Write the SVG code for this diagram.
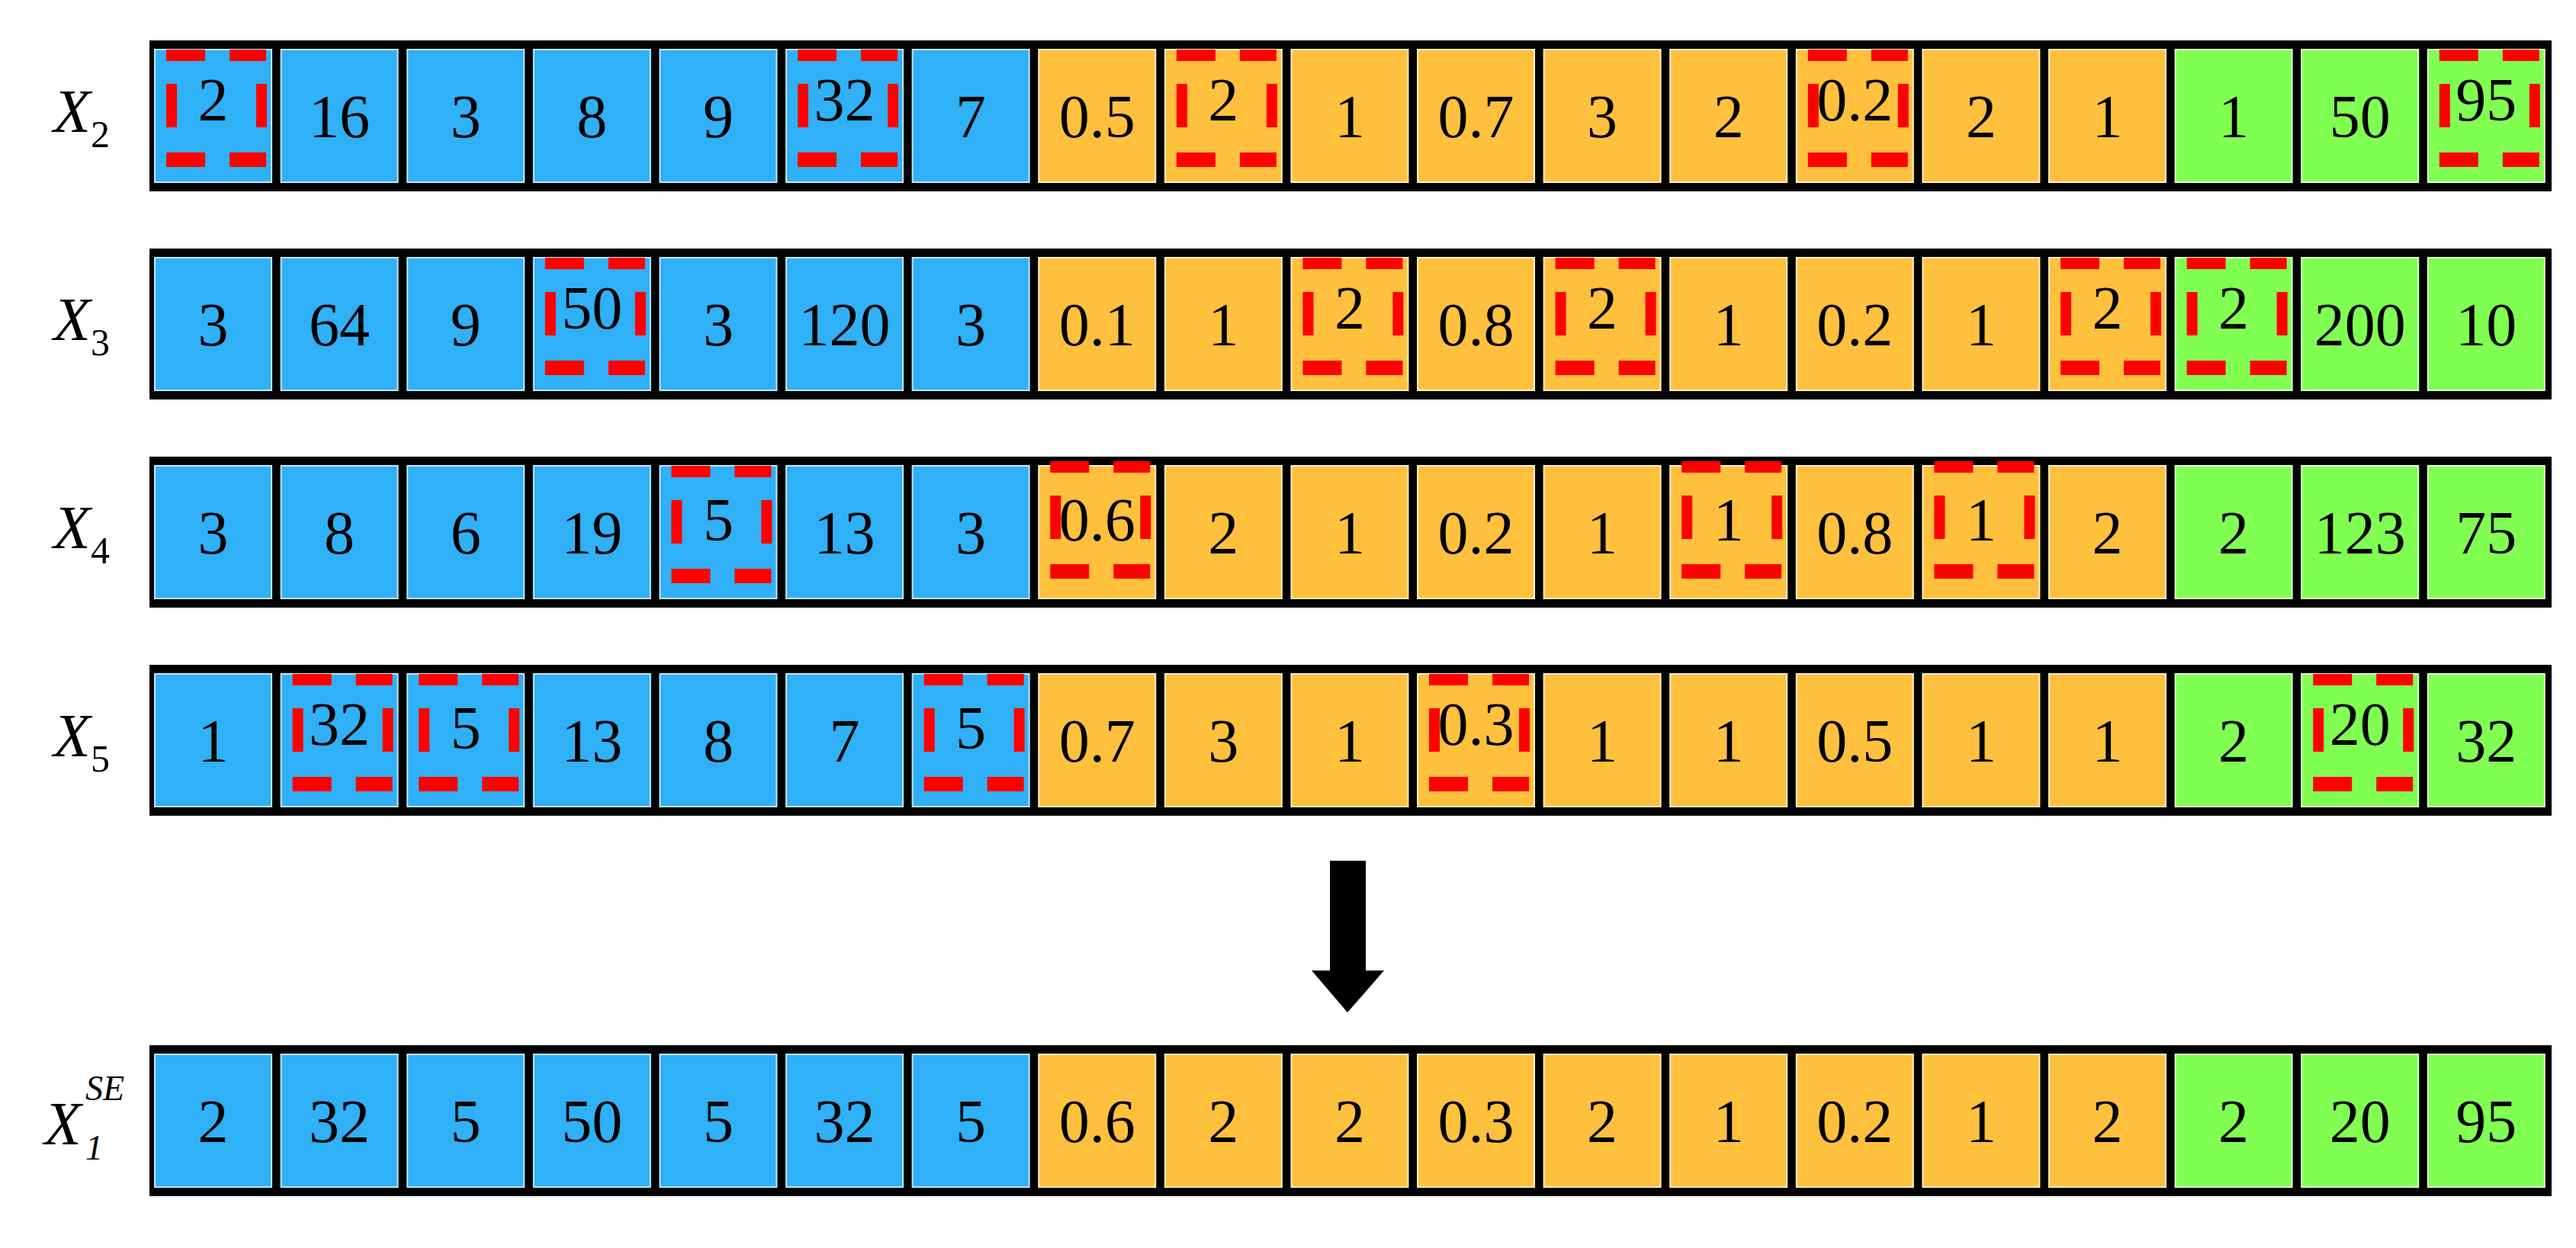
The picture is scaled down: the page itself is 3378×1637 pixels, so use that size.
<svg xmlns="http://www.w3.org/2000/svg" width="3378" height="1637" viewBox="0 0 3378 1637">
<style>
.frame{fill:#000}
.b{fill:#30b0f6;stroke:#bfe6ff;stroke-width:2}
.o{fill:#ffc03e;stroke:#fff0c0;stroke-width:2}
.g{fill:#80ff52;stroke:#e0ffd0;stroke-width:2}
.t{font-family:"Liberation Serif",serif;font-size:80px;text-anchor:middle;fill:#000}
.lab{font-family:"Liberation Serif",serif;font-style:italic;fill:#000}
.d{fill:#ff0000}
</style>
<defs>
<g id="hl">
<rect class="d" x="15" y="0" width="51" height="15"/><rect class="d" x="98" y="0" width="48" height="15"/>
<rect class="d" x="15" y="45" width="14" height="57"/><rect class="d" x="133" y="45" width="14" height="57"/>
<rect class="d" x="15" y="135" width="51" height="19"/><rect class="d" x="98" y="135" width="48" height="19"/>
</g>
</defs>
<g id="row-x2" transform="translate(0,53)">
<rect class="frame" x="196" y="0" width="3150" height="198"/>
<rect class="b" x="203" y="12" width="153" height="174"/><rect class="b" x="368.6" y="12" width="153" height="174"/><rect class="b" x="534.2" y="12" width="153" height="174"/><rect class="b" x="699.8" y="12" width="153" height="174"/><rect class="b" x="865.4" y="12" width="153" height="174"/><rect class="b" x="1031" y="12" width="153" height="174"/><rect class="b" x="1196.6" y="12" width="153" height="174"/>
<rect class="o" x="1362.2" y="12" width="153" height="174"/><rect class="o" x="1527.8" y="12" width="153" height="174"/><rect class="o" x="1693.4" y="12" width="153" height="174"/><rect class="o" x="1859" y="12" width="153" height="174"/><rect class="o" x="2024.6" y="12" width="153" height="174"/><rect class="o" x="2190.2" y="12" width="153" height="174"/><rect class="o" x="2355.8" y="12" width="153" height="174"/><rect class="o" x="2521.4" y="12" width="153" height="174"/><rect class="o" x="2687" y="12" width="153" height="174"/>
<rect class="g" x="2852.6" y="12" width="153" height="174"/><rect class="g" x="3018.2" y="12" width="153" height="174"/><rect class="g" x="3183.8" y="12" width="153" height="174"/>
<use href="#hl" x="203" y="12"/><use href="#hl" x="1031" y="12"/><use href="#hl" x="1527.8" y="12"/><use href="#hl" x="2355.8" y="12"/><use href="#hl" x="3183.8" y="12"/>
<text class="t" x="279.5" y="105">2</text><text class="t" x="445.1" y="127">16</text><text class="t" x="610.7" y="127">3</text><text class="t" x="776.3" y="127">8</text><text class="t" x="941.9" y="127">9</text><text class="t" x="1107.5" y="105">32</text><text class="t" x="1273.1" y="127">7</text>
<text class="t" x="1438.7" y="127">0.5</text><text class="t" x="1604.3" y="105">2</text><text class="t" x="1769.9" y="127">1</text><text class="t" x="1935.5" y="127">0.7</text><text class="t" x="2101.1" y="127">3</text><text class="t" x="2266.7" y="127">2</text><text class="t" x="2432.3" y="105">0.2</text><text class="t" x="2597.9" y="127">2</text><text class="t" x="2763.5" y="127">1</text>
<text class="t" x="2929.1" y="127">1</text><text class="t" x="3094.7" y="127">50</text><text class="t" x="3260.3" y="105">95</text>
<text class="lab" x="70" y="120" font-size="80">X<tspan font-size="50" font-style="normal" dy="20">2</tspan></text>
</g>
<g id="row-x3" transform="translate(0,326)">
<rect class="frame" x="196" y="0" width="3150" height="198"/>
<rect class="b" x="203" y="12" width="153" height="174"/><rect class="b" x="368.6" y="12" width="153" height="174"/><rect class="b" x="534.2" y="12" width="153" height="174"/><rect class="b" x="699.8" y="12" width="153" height="174"/><rect class="b" x="865.4" y="12" width="153" height="174"/><rect class="b" x="1031" y="12" width="153" height="174"/><rect class="b" x="1196.6" y="12" width="153" height="174"/>
<rect class="o" x="1362.2" y="12" width="153" height="174"/><rect class="o" x="1527.8" y="12" width="153" height="174"/><rect class="o" x="1693.4" y="12" width="153" height="174"/><rect class="o" x="1859" y="12" width="153" height="174"/><rect class="o" x="2024.6" y="12" width="153" height="174"/><rect class="o" x="2190.2" y="12" width="153" height="174"/><rect class="o" x="2355.8" y="12" width="153" height="174"/><rect class="o" x="2521.4" y="12" width="153" height="174"/><rect class="o" x="2687" y="12" width="153" height="174"/>
<rect class="g" x="2852.6" y="12" width="153" height="174"/><rect class="g" x="3018.2" y="12" width="153" height="174"/><rect class="g" x="3183.8" y="12" width="153" height="174"/>
<use href="#hl" x="699.8" y="12"/><use href="#hl" x="1693.4" y="12"/><use href="#hl" x="2024.6" y="12"/><use href="#hl" x="2687" y="12"/><use href="#hl" x="2852.6" y="12"/>
<text class="t" x="279.5" y="127">3</text><text class="t" x="445.1" y="127">64</text><text class="t" x="610.7" y="127">9</text><text class="t" x="776.3" y="105">50</text><text class="t" x="941.9" y="127">3</text><text class="t" x="1107.5" y="127">120</text><text class="t" x="1273.1" y="127">3</text>
<text class="t" x="1438.7" y="127">0.1</text><text class="t" x="1604.3" y="127">1</text><text class="t" x="1769.9" y="105">2</text><text class="t" x="1935.5" y="127">0.8</text><text class="t" x="2101.1" y="105">2</text><text class="t" x="2266.7" y="127">1</text><text class="t" x="2432.3" y="127">0.2</text><text class="t" x="2597.9" y="127">1</text><text class="t" x="2763.5" y="105">2</text>
<text class="t" x="2929.1" y="105">2</text><text class="t" x="3094.7" y="127">200</text><text class="t" x="3260.3" y="127">10</text>
<text class="lab" x="70" y="120" font-size="80">X<tspan font-size="50" font-style="normal" dy="20">3</tspan></text>
</g>
<g id="row-x4" transform="translate(0,599)">
<rect class="frame" x="196" y="0" width="3150" height="198"/>
<rect class="b" x="203" y="12" width="153" height="174"/><rect class="b" x="368.6" y="12" width="153" height="174"/><rect class="b" x="534.2" y="12" width="153" height="174"/><rect class="b" x="699.8" y="12" width="153" height="174"/><rect class="b" x="865.4" y="12" width="153" height="174"/><rect class="b" x="1031" y="12" width="153" height="174"/><rect class="b" x="1196.6" y="12" width="153" height="174"/>
<rect class="o" x="1362.2" y="12" width="153" height="174"/><rect class="o" x="1527.8" y="12" width="153" height="174"/><rect class="o" x="1693.4" y="12" width="153" height="174"/><rect class="o" x="1859" y="12" width="153" height="174"/><rect class="o" x="2024.6" y="12" width="153" height="174"/><rect class="o" x="2190.2" y="12" width="153" height="174"/><rect class="o" x="2355.8" y="12" width="153" height="174"/><rect class="o" x="2521.4" y="12" width="153" height="174"/><rect class="o" x="2687" y="12" width="153" height="174"/>
<rect class="g" x="2852.6" y="12" width="153" height="174"/><rect class="g" x="3018.2" y="12" width="153" height="174"/><rect class="g" x="3183.8" y="12" width="153" height="174"/>
<use href="#hl" x="865.4" y="12"/><use href="#hl" x="1362.2" y="6"/><use href="#hl" x="2190.2" y="6"/><use href="#hl" x="2521.4" y="6"/>
<text class="t" x="279.5" y="127">3</text><text class="t" x="445.1" y="127">8</text><text class="t" x="610.7" y="127">6</text><text class="t" x="776.3" y="127">19</text><text class="t" x="941.9" y="110">5</text><text class="t" x="1107.5" y="127">13</text><text class="t" x="1273.1" y="127">3</text>
<text class="t" x="1438.7" y="110">0.6</text><text class="t" x="1604.3" y="127">2</text><text class="t" x="1769.9" y="127">1</text><text class="t" x="1935.5" y="127">0.2</text><text class="t" x="2101.1" y="127">1</text><text class="t" x="2266.7" y="110">1</text><text class="t" x="2432.3" y="127">0.8</text><text class="t" x="2597.9" y="110">1</text><text class="t" x="2763.5" y="127">2</text>
<text class="t" x="2929.1" y="127">2</text><text class="t" x="3094.7" y="127">123</text><text class="t" x="3260.3" y="127">75</text>
<text class="lab" x="70" y="120" font-size="80">X<tspan font-size="50" font-style="normal" dy="20">4</tspan></text>
</g>
<g id="row-x5" transform="translate(0,872)">
<rect class="frame" x="196" y="0" width="3150" height="198"/>
<rect class="b" x="203" y="12" width="153" height="174"/><rect class="b" x="368.6" y="12" width="153" height="174"/><rect class="b" x="534.2" y="12" width="153" height="174"/><rect class="b" x="699.8" y="12" width="153" height="174"/><rect class="b" x="865.4" y="12" width="153" height="174"/><rect class="b" x="1031" y="12" width="153" height="174"/><rect class="b" x="1196.6" y="12" width="153" height="174"/>
<rect class="o" x="1362.2" y="12" width="153" height="174"/><rect class="o" x="1527.8" y="12" width="153" height="174"/><rect class="o" x="1693.4" y="12" width="153" height="174"/><rect class="o" x="1859" y="12" width="153" height="174"/><rect class="o" x="2024.6" y="12" width="153" height="174"/><rect class="o" x="2190.2" y="12" width="153" height="174"/><rect class="o" x="2355.8" y="12" width="153" height="174"/><rect class="o" x="2521.4" y="12" width="153" height="174"/><rect class="o" x="2687" y="12" width="153" height="174"/>
<rect class="g" x="2852.6" y="12" width="153" height="174"/><rect class="g" x="3018.2" y="12" width="153" height="174"/><rect class="g" x="3183.8" y="12" width="153" height="174"/>
<use href="#hl" x="368.6" y="12"/><use href="#hl" x="534.2" y="12"/><use href="#hl" x="1196.6" y="12"/><use href="#hl" x="1859" y="12"/><use href="#hl" x="3018.2" y="12"/>
<text class="t" x="279.5" y="127">1</text><text class="t" x="445.1" y="105">32</text><text class="t" x="610.7" y="110">5</text><text class="t" x="776.3" y="127">13</text><text class="t" x="941.9" y="127">8</text><text class="t" x="1107.5" y="127">7</text><text class="t" x="1273.1" y="110">5</text>
<text class="t" x="1438.7" y="127">0.7</text><text class="t" x="1604.3" y="127">3</text><text class="t" x="1769.9" y="127">1</text><text class="t" x="1935.5" y="105">0.3</text><text class="t" x="2101.1" y="127">1</text><text class="t" x="2266.7" y="127">1</text><text class="t" x="2432.3" y="127">0.5</text><text class="t" x="2597.9" y="127">1</text><text class="t" x="2763.5" y="127">1</text>
<text class="t" x="2929.1" y="127">2</text><text class="t" x="3094.7" y="105">20</text><text class="t" x="3260.3" y="127">32</text>
<text class="lab" x="70" y="120" font-size="80">X<tspan font-size="50" font-style="normal" dy="20">5</tspan></text>
</g>
<g id="connectors">
<polygon points="1744,1129 1791,1129 1791,1273 1815,1273 1767,1328 1720,1273 1744,1273" fill="#000"/>
</g>
<g id="row-x1se" transform="translate(0,1371)">
<rect class="frame" x="196" y="0" width="3150" height="198"/>
<rect class="b" x="203" y="12" width="153" height="174"/><rect class="b" x="368.6" y="12" width="153" height="174"/><rect class="b" x="534.2" y="12" width="153" height="174"/><rect class="b" x="699.8" y="12" width="153" height="174"/><rect class="b" x="865.4" y="12" width="153" height="174"/><rect class="b" x="1031" y="12" width="153" height="174"/><rect class="b" x="1196.6" y="12" width="153" height="174"/>
<rect class="o" x="1362.2" y="12" width="153" height="174"/><rect class="o" x="1527.8" y="12" width="153" height="174"/><rect class="o" x="1693.4" y="12" width="153" height="174"/><rect class="o" x="1859" y="12" width="153" height="174"/><rect class="o" x="2024.6" y="12" width="153" height="174"/><rect class="o" x="2190.2" y="12" width="153" height="174"/><rect class="o" x="2355.8" y="12" width="153" height="174"/><rect class="o" x="2521.4" y="12" width="153" height="174"/><rect class="o" x="2687" y="12" width="153" height="174"/>
<rect class="g" x="2852.6" y="12" width="153" height="174"/><rect class="g" x="3018.2" y="12" width="153" height="174"/><rect class="g" x="3183.8" y="12" width="153" height="174"/>
<text class="t" x="279.5" y="127">2</text><text class="t" x="445.1" y="127">32</text><text class="t" x="610.7" y="127">5</text><text class="t" x="776.3" y="127">50</text><text class="t" x="941.9" y="127">5</text><text class="t" x="1107.5" y="127">32</text><text class="t" x="1273.1" y="127">5</text>
<text class="t" x="1438.7" y="127">0.6</text><text class="t" x="1604.3" y="127">2</text><text class="t" x="1769.9" y="127">2</text><text class="t" x="1935.5" y="127">0.3</text><text class="t" x="2101.1" y="127">2</text><text class="t" x="2266.7" y="127">1</text><text class="t" x="2432.3" y="127">0.2</text><text class="t" x="2597.9" y="127">1</text><text class="t" x="2763.5" y="127">2</text>
<text class="t" x="2929.1" y="127">2</text><text class="t" x="3094.7" y="127">20</text><text class="t" x="3260.3" y="127">95</text>
<text class="lab" x="58" y="130" font-size="80">X</text>
<text class="lab" x="112" y="150" font-size="46" font-style="normal">1</text>
<text class="lab" x="112" y="72" font-size="46">SE</text>
</g>
</svg>
